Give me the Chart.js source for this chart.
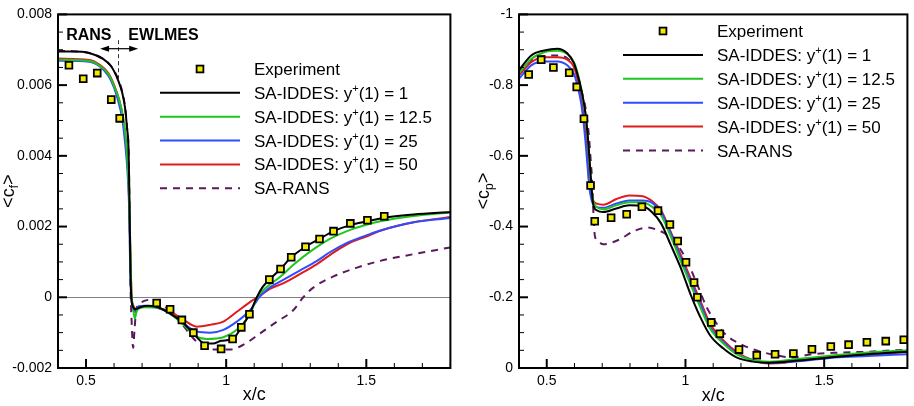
<!DOCTYPE html>
<html>
<head>
<meta charset="utf-8">
<script src="https://cdn.jsdelivr.net/npm/chart.js@4.4.1/dist/chart.umd.min.js"></script>
<style>
  body { margin: 0; background: #fff; }
  #wrap { position: relative; width: 914px; height: 406px; }
  .box { position: absolute; top: 0; width: 457px; height: 406px; }
</style>
</head>
<body>
<div id="wrap">
  <div class="box" style="left:0"><canvas id="cfChart" width="457" height="406"></canvas></div>
  <div class="box" style="left:457px"><canvas id="cpChart" width="457" height="406"></canvas></div>
</div>
<script>
// ---- skin friction <cf> ----
const expCfX = [0.439, 0.490, 0.540, 0.590, 0.620, 0.752, 0.800, 0.842, 0.883, 0.923, 0.982, 1.023, 1.054, 1.083, 1.154, 1.194, 1.232, 1.283, 1.333, 1.383, 1.443, 1.504, 1.564];
const expCfY = [0.00656, 0.00618, 0.00634, 0.00559, 0.00506, -0.00016, -0.00034, -0.00064, -0.00100, -0.00137, -0.00146, -0.00118, -0.00085, -0.00048, 0.00050, 0.00080, 0.00113, 0.00143, 0.00165, 0.00187, 0.00209, 0.00218, 0.00229];

const cfY1X = [0.40, 0.45, 0.511, 0.561, 0.589, 0.614, 0.629, 0.639, 0.646, 0.652, 0.655, 0.658, 0.661, 0.668, 0.675, 0.693, 0.721, 0.752, 0.80, 0.842, 0.883, 0.922, 0.954, 0.982, 1.023, 1.054, 1.083, 1.110, 1.129, 1.154, 1.194, 1.232, 1.283, 1.333, 1.383, 1.443, 1.504, 1.564, 1.669, 1.80];
const cfY1Y = [0.00695, 0.00695, 0.00691, 0.00674, 0.00654, 0.00615, 0.00579, 0.00537, 0.00481, 0.00411, 0.00271, 0.00103, 0.00006, -0.00028, -0.00034, -0.00028, -0.00024, -0.00027, -0.00046, -0.00069, -0.00102, -0.00130, -0.00131, -0.00123, -0.00118, -0.00085, -0.00048, 0.00001, 0.00028, 0.00050, 0.00080, 0.00113, 0.00143, 0.00165, 0.00187, 0.00204, 0.00215, 0.00225, 0.00234, 0.00241];

const cfY12X = [0.40, 0.511, 0.55, 0.579, 0.60, 0.618, 0.632, 0.643, 0.65, 0.655, 0.659, 0.6625, 0.668, 0.674, 0.680, 0.687, 0.711, 0.752, 0.80, 0.848, 0.889, 0.931, 0.99, 1.038, 1.086, 1.110, 1.145, 1.193, 1.24, 1.312, 1.37, 1.431, 1.50, 1.55, 1.669, 1.80];
const cfY12Y = [0.00672, 0.00668, 0.00654, 0.00632, 0.00598, 0.00559, 0.00509, 0.00439, 0.00355, 0.00243, 0.00103, 0.00006, -0.00031, -0.00060, -0.00042, -0.00032, -0.00028, -0.00029, -0.00046, -0.00078, -0.00109, -0.00118, -0.00113, -0.00092, -0.00046, 0.0, 0.00029, 0.00058, 0.00092, 0.00136, 0.00165, 0.00187, 0.00205, 0.00215, 0.00230, 0.00240];

const cfY25X = [0.40, 0.511, 0.55, 0.579, 0.60, 0.614, 0.629, 0.639, 0.648, 0.654, 0.657, 0.661, 0.666, 0.671, 0.679, 0.687, 0.711, 0.752, 0.80, 0.848, 0.895, 0.943, 0.99, 1.038, 1.086, 1.121, 1.16, 1.205, 1.264, 1.324, 1.371, 1.431, 1.50, 1.55, 1.669, 1.80];
const cfY25Y = [0.00669, 0.00666, 0.00652, 0.00627, 0.00593, 0.00557, 0.00506, 0.00439, 0.00355, 0.00243, 0.00103, 0.00006, -0.00022, -0.00041, -0.00034, -0.00025, -0.00024, -0.00029, -0.00046, -0.00074, -0.00097, -0.00100, -0.00092, -0.00069, -0.00036, 0.00003, 0.00030, 0.00050, 0.00076, 0.00103, 0.00128, 0.00154, 0.00175, 0.00189, 0.00212, 0.00224];

const cfY50X = [0.40, 0.511, 0.55, 0.579, 0.60, 0.618, 0.632, 0.643, 0.65, 0.655, 0.659, 0.6625, 0.668, 0.679, 0.711, 0.752, 0.80, 0.848, 0.895, 0.943, 0.99, 1.038, 1.086, 1.12, 1.16, 1.205, 1.264, 1.324, 1.371, 1.431, 1.50, 1.55, 1.669, 1.80];
const cfY50Y = [0.00675, 0.00671, 0.00657, 0.00635, 0.00601, 0.00559, 0.00509, 0.00439, 0.00355, 0.00243, 0.00103, 0.00006, -0.00022, -0.00034, -0.00025, -0.00029, -0.00041, -0.00064, -0.00083, -0.00078, -0.00069, -0.00041, -0.00013, 0.00005, 0.00025, 0.00040, 0.00066, 0.00094, 0.00120, 0.00150, 0.00172, 0.00188, 0.00212, 0.00227];

const cfRansX = [0.40, 0.45, 0.511, 0.561, 0.589, 0.614, 0.629, 0.639, 0.646, 0.652, 0.655, 0.657, 0.659, 0.6625, 0.668, 0.673, 0.679, 0.693, 0.729, 0.764, 0.80, 0.836, 0.877, 0.907, 0.955, 1.014, 1.062, 1.121, 1.181, 1.24, 1.275, 1.312, 1.383, 1.467, 1.55, 1.669, 1.80];
const cfRansY = [0.00697, 0.00696, 0.00691, 0.00674, 0.00654, 0.00618, 0.00582, 0.00540, 0.00484, 0.00411, 0.00271, 0.00131, 0.00020, -0.00064, -0.00143, -0.00092, -0.00036, -0.00017, -0.00007, -0.00017, -0.00039, -0.00069, -0.00111, -0.00134, -0.00148, -0.00148, -0.00134, -0.00102, -0.00069, -0.00036, 0.0, 0.00028, 0.00059, 0.00084, 0.00103, 0.00122, 0.00141];

// ---- pressure <cp> ----
const expCpX = [0.435, 0.480, 0.524, 0.581, 0.608, 0.634, 0.658, 0.673, 0.732, 0.788, 0.843, 0.901, 0.944, 0.972, 1.002, 1.031, 1.043, 1.093, 1.124, 1.193, 1.257, 1.323, 1.389, 1.456, 1.524, 1.588, 1.654, 1.722, 1.787];
const expCpY = [-0.830, -0.872, -0.850, -0.835, -0.795, -0.705, -0.516, -0.415, -0.425, -0.435, -0.456, -0.445, -0.406, -0.359, -0.299, -0.242, -0.200, -0.129, -0.097, -0.052, -0.036, -0.039, -0.041, -0.053, -0.061, -0.066, -0.073, -0.076, -0.080];

const cpY1X = [0.40, 0.444, 0.491, 0.538, 0.574, 0.598, 0.615, 0.628, 0.640, 0.649, 0.655, 0.661, 0.667, 0.680, 0.704, 0.751, 0.798, 0.846, 0.876, 0.912, 0.947, 0.983, 1.018, 1.054, 1.089, 1.137, 1.184, 1.243, 1.302, 1.420, 1.538, 1.656, 1.80];
const cpY1Y = [-0.842, -0.884, -0.898, -0.903, -0.890, -0.862, -0.818, -0.775, -0.718, -0.646, -0.581, -0.516, -0.465, -0.446, -0.441, -0.451, -0.460, -0.458, -0.443, -0.409, -0.348, -0.283, -0.209, -0.143, -0.092, -0.055, -0.030, -0.018, -0.015, -0.022, -0.031, -0.039, -0.046];

const cpY12X = [0.40, 0.444, 0.491, 0.538, 0.574, 0.598, 0.615, 0.627, 0.639, 0.648, 0.654, 0.660, 0.666, 0.680, 0.704, 0.751, 0.798, 0.846, 0.881, 0.912, 0.947, 0.983, 1.018, 1.054, 1.089, 1.137, 1.184, 1.243, 1.302, 1.420, 1.538, 1.656, 1.80];
const cpY12Y = [-0.834, -0.874, -0.893, -0.897, -0.888, -0.865, -0.823, -0.777, -0.721, -0.646, -0.581, -0.516, -0.478, -0.455, -0.449, -0.460, -0.469, -0.469, -0.455, -0.432, -0.372, -0.302, -0.237, -0.171, -0.111, -0.069, -0.039, -0.022, -0.018, -0.027, -0.036, -0.044, -0.050];

const cpY25X = [0.40, 0.444, 0.491, 0.538, 0.574, 0.598, 0.612, 0.624, 0.633, 0.641, 0.647, 0.653, 0.662, 0.680, 0.704, 0.751, 0.798, 0.846, 0.876, 0.912, 0.947, 0.983, 1.018, 1.054, 1.089, 1.137, 1.184, 1.243, 1.302, 1.420, 1.538, 1.656, 1.80];
const cpY25Y = [-0.818, -0.856, -0.867, -0.867, -0.856, -0.832, -0.795, -0.749, -0.693, -0.628, -0.572, -0.516, -0.474, -0.455, -0.453, -0.465, -0.474, -0.474, -0.469, -0.441, -0.381, -0.311, -0.246, -0.181, -0.115, -0.073, -0.041, -0.022, -0.015, -0.020, -0.030, -0.034, -0.039];

const cpY50X = [0.40, 0.444, 0.491, 0.538, 0.574, 0.598, 0.612, 0.624, 0.633, 0.642, 0.648, 0.654, 0.662, 0.680, 0.704, 0.751, 0.798, 0.846, 0.876, 0.912, 0.947, 0.983, 1.018, 1.054, 1.089, 1.137, 1.184, 1.243, 1.302, 1.36, 1.42, 1.49, 1.60, 1.72, 1.80];
const cpY50Y = [-0.828, -0.865, -0.879, -0.879, -0.872, -0.851, -0.814, -0.767, -0.711, -0.646, -0.581, -0.516, -0.483, -0.465, -0.462, -0.478, -0.488, -0.486, -0.474, -0.446, -0.385, -0.320, -0.255, -0.190, -0.125, -0.078, -0.046, -0.022, -0.013, -0.015, -0.022, -0.030, -0.036, -0.041, -0.046];

const cpRansX = [0.40, 0.444, 0.491, 0.538, 0.574, 0.598, 0.615, 0.628, 0.639, 0.651, 0.659, 0.664, 0.667, 0.670, 0.673, 0.681, 0.705, 0.758, 0.817, 0.865, 0.90, 0.935, 0.971, 1.006, 1.042, 1.077, 1.113, 1.148, 1.195, 1.255, 1.326, 1.385, 1.456, 1.538, 1.656, 1.80];
const cpRansY = [-0.832, -0.870, -0.882, -0.884, -0.876, -0.855, -0.818, -0.775, -0.739, -0.665, -0.581, -0.525, -0.460, -0.413, -0.376, -0.362, -0.350, -0.362, -0.388, -0.397, -0.390, -0.376, -0.348, -0.302, -0.237, -0.171, -0.125, -0.092, -0.069, -0.050, -0.036, -0.030, -0.039, -0.043, -0.046, -0.052];

// ticks
const xTicks = [0.5, 1, 1.5];
const cfTicks = [-0.002, 0, 0.002, 0.004, 0.006, 0.008];
const cpTicks = [-1, -0.8, -0.6, -0.4, -0.2, 0];

const labels = ['Experiment', 'SA-IDDES: y^+(1) = 1', 'SA-IDDES: y^+(1) = 12.5', 'SA-IDDES: y^+(1) = 25', 'SA-IDDES: y^+(1) = 50', 'SA-RANS'];
const colors = ['#f2ea00', '#000000', '#1fc41f', '#2f4cff', '#e01b1b', '#5b1a5e'];

const FONT = '"Liberation Sans", Arial, Helvetica, sans-serif';

function pts(xs, ys) {
    return xs.map((x, i) => ({ x: x, y: ys[i] }));
}

function lineSet(i, xs, ys, dash) {
    return {
        label: labels[i],
        data: pts(xs, ys),
        showLine: true,
        borderColor: colors[i],
        backgroundColor: colors[i],
        borderWidth: 2,
        borderDash: dash || [],
        pointRadius: 0,
        cubicInterpolationMode: 'monotone'
    };
}

function expSet(xs, ys) {
    return {
        label: labels[0],
        data: pts(xs, ys),
        showLine: false,
        pointStyle: 'rect',
        pointRadius: 4.8,
        backgroundColor: colors[0],
        borderColor: '#000',
        borderWidth: 1.8
    };
}

function fmt(v) {
    return String(parseFloat(v.toFixed(4)));
}

// draw text made of pieces with different size / vertical shift
function drawRich(ctx, parts, x, y, align) {
    let w = 0;
    parts.forEach(p => {
        ctx.font = (p.bold ? 'bold ' : '') + p.size + 'px ' + FONT;
        p.w = ctx.measureText(p.t).width;
        w += p.w;
    });
    let cx = align === 'center' ? x - w / 2 : x;
    ctx.textAlign = 'left';
    ctx.textBaseline = 'alphabetic';
    parts.forEach(p => {
        ctx.font = (p.bold ? 'bold ' : '') + p.size + 'px ' + FONT;
        ctx.fillText(p.t, cx, y + (p.dy || 0));
        cx += p.w;
    });
}

function labelParts(txt) {
    const bits = txt.split('^+');
    if (bits.length === 1) return [{ t: txt, size: 17 }];
    return [{ t: bits[0], size: 17 }, { t: '+', size: 11, dy: -7 }, { t: bits[1], size: 17 }];
}

const decor = {
    id: 'decor',
    beforeDatasetsDraw(chart, args, o) {
        if (!o.zeroLine) return;
        const ctx = chart.ctx, a = chart.chartArea;
        const y0 = Math.round(chart.scales.y.getPixelForValue(0)) + 0.5;
        ctx.save();
        ctx.strokeStyle = '#808080';
        ctx.lineWidth = 1;
        ctx.beginPath();
        ctx.moveTo(a.left, y0);
        ctx.lineTo(a.right, y0);
        ctx.stroke();
        ctx.restore();
    },
    afterDatasetsDraw(chart, args, o) {
        const ctx = chart.ctx, a = chart.chartArea;
        const xs = chart.scales.x, ys = chart.scales.y;
        ctx.save();
        ctx.strokeStyle = '#000';

        // inward ticks on left and bottom axes
        function ticks(scale, min, max, minor, major, horiz) {
            const n = Math.round((max - min) / minor);
            for (let k = 0; k <= n; k++) {
                const v = min + k * minor;
                const isMajor = Math.abs(v / major - Math.round(v / major)) < 1e-6;
                const len = isMajor ? 9 : 5;
                ctx.lineWidth = isMajor ? 2 : 1;
                const p = scale.getPixelForValue(v);
                ctx.beginPath();
                if (horiz) {
                    ctx.moveTo(p, a.bottom);
                    ctx.lineTo(p, a.bottom - len);
                } else {
                    ctx.moveTo(a.left, p);
                    ctx.lineTo(a.left + len, p);
                }
                ctx.stroke();
            }
        }
        ticks(xs, 0.4, 1.8, 0.1, 0.5, true);
        ticks(ys, o.yMin, o.yMax, o.yMinor, o.yMajor, false);

        // frame
        ctx.lineWidth = 2;
        ctx.strokeRect(a.left, a.top, a.right - a.left, a.bottom - a.top);

        // legend
        const L = o.legend;
        chart.data.datasets.forEach((ds, i) => {
            const y = L.y + i * L.dy;
            if (ds.showLine) {
                ctx.strokeStyle = ds.borderColor;
                ctx.lineWidth = ds.borderWidth;
                ctx.setLineDash(ds.borderDash || []);
                ctx.beginPath();
                ctx.moveTo(L.x1, y);
                ctx.lineTo(L.x2, y);
                ctx.stroke();
                ctx.setLineDash([]);
            } else {
                ctx.fillStyle = ds.backgroundColor;
                ctx.strokeStyle = '#000';
                ctx.lineWidth = 1.8;
                ctx.fillRect(L.mark - 3.4, y - 3.4, 6.8, 6.8);
                ctx.strokeRect(L.mark - 3.4, y - 3.4, 6.8, 6.8);
            }
            ctx.fillStyle = '#000';
            drawRich(ctx, labelParts(ds.label), L.text, y + 6, 'left');
        });

        // axis titles
        ctx.fillStyle = '#000';
        drawRich(ctx, [{ t: 'x/c', size: 18 }], (a.left + a.right) / 2, o.xTitleY, 'center');
        ctx.save();
        ctx.translate(o.yTitleX, (a.top + a.bottom) / 2);
        ctx.rotate(-Math.PI / 2);
        drawRich(ctx, [{ t: '<c', size: 18 }, { t: o.sub, size: 12, dy: 4 }, { t: '>', size: 18 }], 0, 0, 'center');
        ctx.restore();

        // RANS / EWLMES zone marker
        if (o.zones) {
            const xv = xs.getPixelForValue(0.614);
            const xl = xs.getPixelForValue(0.55), xr = xs.getPixelForValue(0.686);
            const ya = ys.getPixelForValue(0.00727), yb = ys.getPixelForValue(0.00615);
            const yArr = ys.getPixelForValue(0.00703);
            ctx.strokeStyle = '#333';
            ctx.lineWidth = 1;
            ctx.setLineDash([4, 3]);
            ctx.beginPath();
            ctx.moveTo(Math.round(xv) + 0.5, ya);
            ctx.lineTo(Math.round(xv) + 0.5, yb);
            ctx.stroke();
            ctx.setLineDash([]);
            ctx.strokeStyle = '#000';
            ctx.lineWidth = 1.2;
            ctx.beginPath();
            ctx.moveTo(xl + 4, yArr);
            ctx.lineTo(xr - 4, yArr);
            ctx.stroke();
            ctx.fillStyle = '#000';
            ctx.beginPath();
            ctx.moveTo(xl, yArr);
            ctx.lineTo(xl + 9, yArr - 3);
            ctx.lineTo(xl + 9, yArr + 3);
            ctx.closePath();
            ctx.fill();
            ctx.beginPath();
            ctx.moveTo(xr, yArr);
            ctx.lineTo(xr - 9, yArr - 3);
            ctx.lineTo(xr - 9, yArr + 3);
            ctx.closePath();
            ctx.fill();
            const yt = ys.getPixelForValue(0.00727);
            drawRich(ctx, [{ t: 'RANS', size: 16, bold: true }], xs.getPixelForValue(0.429), yt, 'left');
            drawRich(ctx, [{ t: 'EWLMES', size: 16, bold: true }], xs.getPixelForValue(0.651), yt, 'left');
        }
        ctx.restore();
    }
};

function makeChart(id, datasets, y, yTicks, axisWidth, padRight, extra) {
    return new Chart(document.getElementById(id), {
        type: 'scatter',
        data: { datasets: datasets },
        options: {
            responsive: false,
            animation: false,
            events: [],
            layout: { padding: { left: 0, right: padRight, top: 10, bottom: 0 } },
            scales: {
                x: {
                    type: 'linear', min: 0.4, max: 1.8,
                    afterBuildTicks: s => { s.ticks = xTicks.map(v => ({ value: v })); },
                    afterFit: s => { s.height = 38; },
                    grid: { display: false, drawTicks: false },
                    border: { display: false },
                    ticks: { color: '#000', padding: 5, maxRotation: 0, font: { family: FONT, size: 14 }, callback: v => fmt(v) }
                },
                y: {
                    type: 'linear', min: y.min, max: y.max, reverse: !!y.reverse,
                    afterBuildTicks: s => { s.ticks = yTicks.map(v => ({ value: v })); },
                    afterFit: s => { s.width = axisWidth; },
                    grid: { display: false, drawTicks: false },
                    border: { display: false },
                    ticks: { color: '#000', padding: 6, font: { family: FONT, size: 14 }, callback: v => fmt(v) }
                }
            },
            plugins: {
                legend: { display: false },
                tooltip: { enabled: false },
                decor: extra
            }
        },
        plugins: [decor]
    });
}

makeChart('cfChart', [
    expSet(expCfX, expCfY),
    lineSet(1, cfY1X, cfY1Y),
    lineSet(2, cfY12X, cfY12Y),
    lineSet(3, cfY25X, cfY25Y),
    lineSet(4, cfY50X, cfY50Y),
    lineSet(5, cfRansX, cfRansY, [7, 6])
], { min: -0.002, max: 0.008 }, cfTicks, 58, 6, {
    yMin: -0.002, yMax: 0.008, yMinor: 0.0005, yMajor: 0.002,
    zeroLine: true, zones: true, sub: 'f',
    xTitleY: 400, yTitleX: 14,
    legend: { y: 69, dy: 23.85, mark: 200, x1: 160, x2: 240, text: 254 }
});

makeChart('cpChart', [
    expSet(expCpX, expCpY),
    lineSet(1, cpY1X, cpY1Y),
    lineSet(2, cpY12X, cpY12Y),
    lineSet(3, cpY25X, cpY25Y),
    lineSet(4, cpY50X, cpY50Y),
    lineSet(5, cpRansX, cpRansY, [7, 6])
], { min: -1, max: 0, reverse: true }, cpTicks, 62, 2, {
    yMin: -1, yMax: 0, yMinor: 0.05, yMajor: 0.2,
    zeroLine: false, zones: false, sub: 'p',
    xTitleY: 401, yTitleX: 32,
    legend: { y: 31, dy: 23.9, mark: 206, x1: 166, x2: 246, text: 260 }
});
</script>
</body>
</html>
